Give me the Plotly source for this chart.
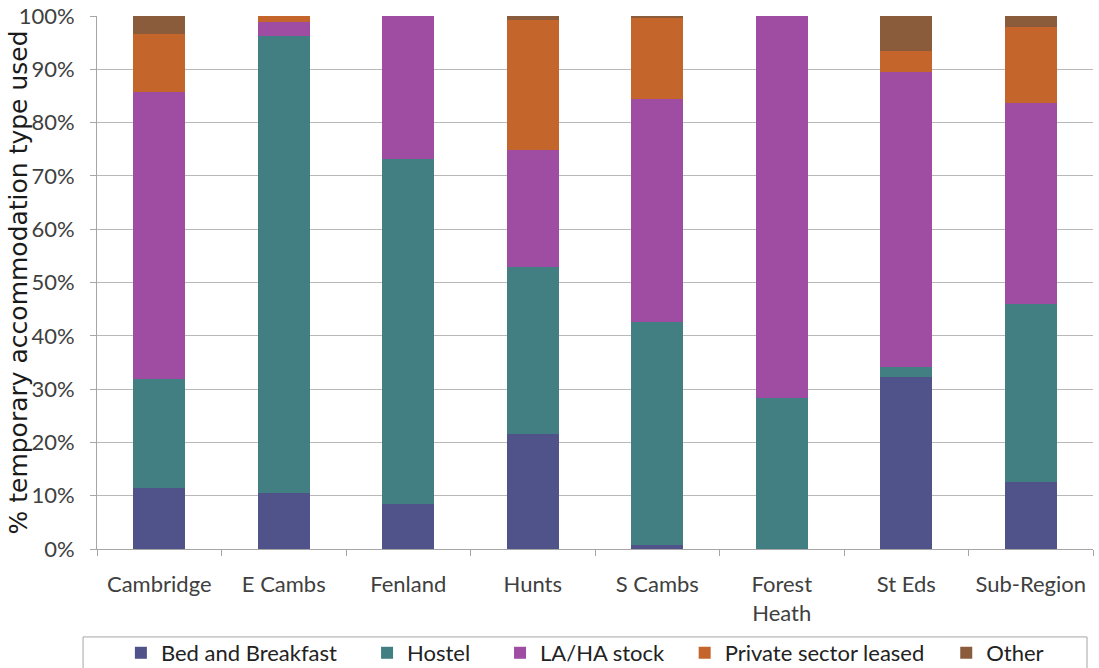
import plotly.graph_objects as go

# Share of temporary accommodation by type, per district
districts = ["Cambridge", "E Cambs", "Fenland", "Hunts", "S Cambs",
             "Forest<br>Heath", "St Eds", "Sub-Region"]

bed_and_breakfast = [11.5, 10.5, 8.5, 21.6, 0.8, 0.0, 32.3, 12.6]
hostel            = [20.4, 85.7, 64.6, 31.4, 41.7, 28.3, 1.9, 33.3]
la_ha_stock       = [53.8, 2.7, 26.9, 21.9, 41.9, 71.7, 55.3, 37.8]
private_leased    = [10.9, 1.1, 0.0, 24.3, 15.4, 0.0, 3.9, 14.2]
other             = [3.4, 0.0, 0.0, 0.8, 0.2, 0.0, 6.6, 2.1]

series = [
    ("Bed and Breakfast", bed_and_breakfast, "#4F5389"),
    ("Hostel", hostel, "#417F83"),
    ("LA/HA stock", la_ha_stock, "#9E4DA3"),
    ("Private sector leased", private_leased, "#C4652B"),
    ("Other", other, "#8B5C3C"),
]

# left edge of each legend entry, as a fraction of the page width
legend_x = [0.110, 0.334, 0.455, 0.623, 0.861]

FONT = "Lato, 'Open Sans', sans-serif"

fig = go.Figure()
legend_layout = {}
for i, (name, vals, color) in enumerate(series):
    key = "legend" if i == 0 else f"legend{i + 1}"
    fig.add_trace(go.Bar(
        x=districts, y=vals, name=name, legend=key,
        marker=dict(color=color, line=dict(width=0)),
    ))
    legend_layout[key] = dict(
        orientation="h", xref="container", x=legend_x[i], xanchor="left",
        yref="container", y=0.0225, yanchor="middle",
        font=dict(family=FONT, size=22, color="#222222"),
        bgcolor="rgba(0,0,0,0)", borderwidth=0,
    )

fig.update_layout(
    barmode="stack",
    bargap=0.58,
    width=1099, height=668,
    margin=dict(l=97, r=6, t=16, b=119, autoexpand=False),
    plot_bgcolor="white", paper_bgcolor="white",
    font=dict(family=FONT, size=22, color="#404040"),
    showlegend=True,
    **legend_layout,
)

# legend frame
fig.add_shape(type="rect", xref="paper", yref="paper",
              x0=-0.014, x1=0.994, y0=-0.228, y1=-0.165,
              line=dict(color="#A6A6A6", width=1))

# rotated y-axis title
fig.add_annotation(
    text="% temporary accommodation type used",
    xref="paper", yref="paper", x=0, y=0.5, xshift=-79,
    textangle=-90, showarrow=False, xanchor="center", yanchor="middle",
    font=dict(family="'DejaVu Sans', sans-serif", size=25, color="#1a1a1a"),
)

fig.update_xaxes(
    showline=True, linecolor="#A6A6A6", linewidth=1,
    ticks="outside", tickson="boundaries", ticklen=6, tickcolor="#A6A6A6",
    tickfont=dict(family=FONT, size=22, color="#404040"),
    ticklabelstandoff=16,
    showgrid=False,
)
fig.update_yaxes(
    range=[0, 100], tickvals=list(range(0, 101, 10)),
    ticktext=[f"{v}%" for v in range(0, 101, 10)],
    showline=True, linecolor="#A6A6A6", linewidth=1,
    ticks="outside", ticklen=6, tickcolor="#A6A6A6",
    ticklabelstandoff=11,
    showgrid=True, gridcolor="#B8B8B8", gridwidth=1,
    tickfont=dict(family=FONT, size=22, color="#404040"),
    zeroline=False,
)

fig.write_html("out.html")
